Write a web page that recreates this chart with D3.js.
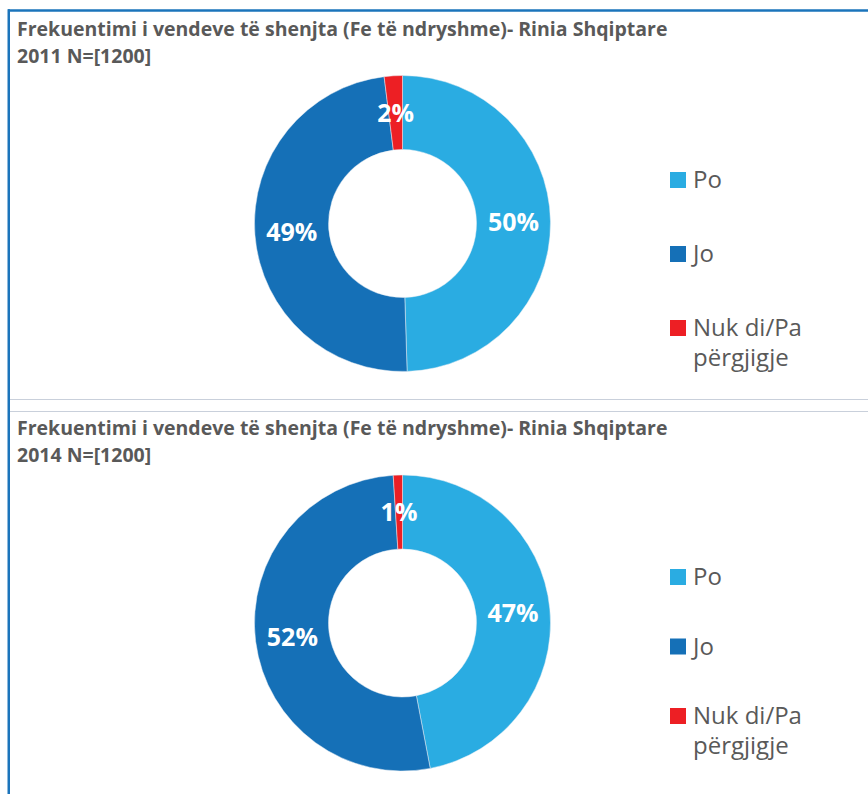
<!DOCTYPE html>
<html>
<head>
<meta charset="utf-8">
<script src="https://cdn.jsdelivr.net/npm/d3@7"></script>
<style>
  body { margin: 0; background: #fff; }
  svg { display: block; font-family: "Open Sans", sans-serif; }
</style>
</head>
<body>
<div id="chart"></div>
<script>
// Two donut charts, one per survey year

const categories = ["Po", "Jo", "Nuk di/Pa përgjigje"]
const legendLines = [["Po"], ["Jo"], ["Nuk di/Pa", "përgjigje"]]
const years = ["2011", "2014"]
const values2011 = [50, 49, 2]
const values2014 = [47, 52, 1]
const titleText = "Frekuentimi i vendeve të shenjta (Fe të ndryshme)- Rinia Shqiptare"
const sampleText = "N=[1200]"

const WIDTH = 868
const HEIGHT = 794
const COLORS = ["#2aace2", "#1570b7", "#ed1f24"]
const OUTER_R = 148
const INNER_R = 74

// layout for each panel (title, donut centre, legend rows)
const PANELS = [
  {year: years[0], values: values2011, titleY: 36, cy: 223.5, legendY: 180, legendStep: 74},
  {year: years[1], values: values2014, titleY: 435, cy: 623, legendY: 577, legendStep: 69.5}
]
const CX = 402.5

const svg = d3.select("#chart")
  .append("svg")
    .attr("width", WIDTH)
    .attr("height", HEIGHT)

// FRAME
svg.append("line")
  .attr("x1", 8).attr("x2", WIDTH).attr("y1", 10.5).attr("y2", 10.5)
  .attr("stroke", "#1b74bb").attr("stroke-width", 2.5)
svg.append("line")
  .attr("x1", 8.75).attr("x2", 8.75).attr("y1", 9.25).attr("y2", HEIGHT)
  .attr("stroke", "#1b74bb").attr("stroke-width", 2.5)
for (const y of [399.5, 411.5]) {
  svg.append("line")
    .attr("x1", 10).attr("x2", WIDTH).attr("y1", y).attr("y2", y)
    .attr("stroke", "#c9d0db").attr("stroke-width", 1.2)
}

const pie = d3.pie().sort(null).value(d => d)
const arc = d3.arc().innerRadius(INNER_R).outerRadius(OUTER_R)
const color = d3.scaleOrdinal().domain(categories).range(COLORS)

PANELS.forEach(panel => {
  const g = svg.append("g")

  // title, two lines
  const title = g.append("text")
    .attr("x", 17)
    .attr("y", panel.titleY)
    .attr("fill", "#595959")
    .attr("font-size", 19.5)
    .attr("font-weight", "bold")
  title.append("tspan").attr("x", 17).text(titleText)
  title.append("tspan").attr("x", 17).attr("dy", 27)
    .text(panel.year + " " + sampleText)

  const donut = g.append("g")
    .attr("transform", "translate(" + CX + "," + panel.cy + ")")

  const slices = pie(panel.values)

  donut.selectAll("path")
    .data(slices)
    .enter()
    .append("path")
      .attr("d", arc)
      .attr("fill", (d, i) => color(categories[i]))
      .attr("stroke", "#e8eef5")
      .attr("stroke-width", 0.5)

  donut.selectAll("text")
    .data(slices)
    .enter()
    .append("text")
      .attr("transform", d => "translate(" + arc.centroid(d) + ")")
      .attr("text-anchor", "middle")
      .attr("dy", "0.36em")
      .attr("fill", "#fff")
      .attr("font-size", 25)
      .attr("font-weight", "bold")
      .text(d => d.value + "%")

  // legend
  const legend = g.selectAll(".legend")
    .data(categories)
    .enter()
    .append("g")
      .attr("transform", (d, i) => "translate(670," + (panel.legendY + i * panel.legendStep) + ")")

  legend.append("rect")
    .attr("x", 0).attr("y", -8)
    .attr("width", 16).attr("height", 16)
    .attr("fill", d => color(d))

  legend.append("text")
    .attr("x", 23)
    .attr("fill", "#595959")
    .attr("font-size", 24)
    .selectAll("tspan")
    .data((d, i) => legendLines[i])
    .enter()
    .append("tspan")
      .attr("x", 23)
      .attr("dy", (d, i) => i === 0 ? "0.35em" : "1.25em")
      .text(d => d)
})
</script>
</body>
</html>
